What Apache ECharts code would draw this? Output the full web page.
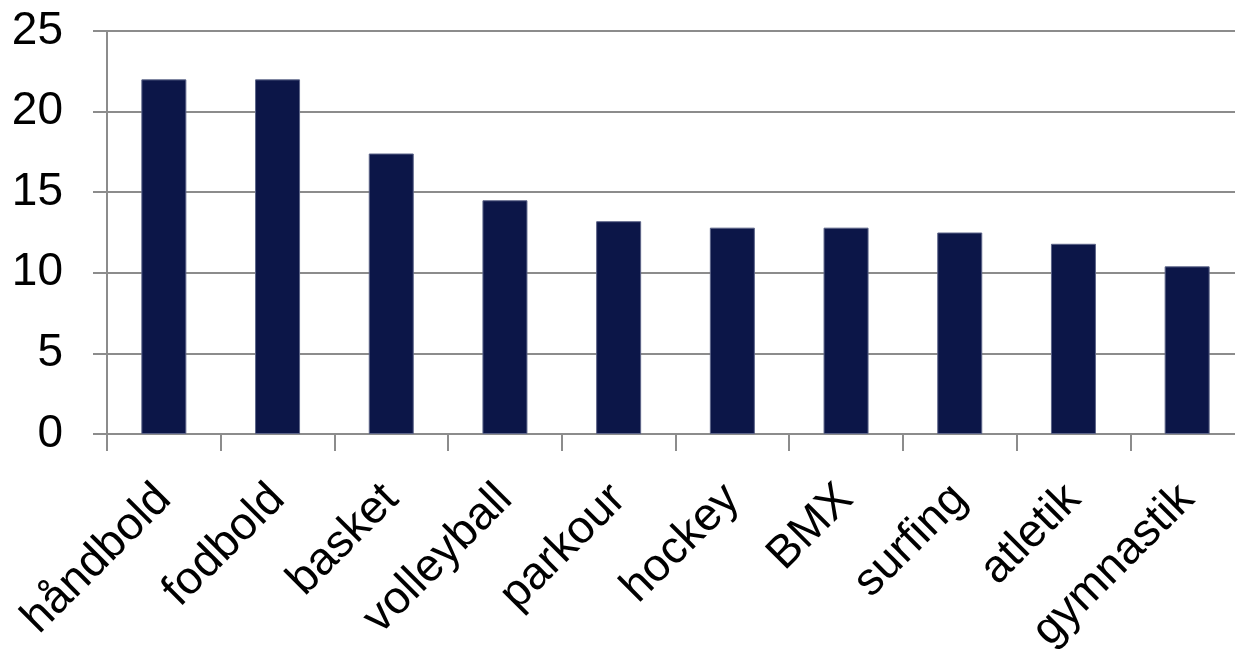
<!DOCTYPE html>
<html>
<head>
<meta charset="utf-8">
<script src="https://cdn.jsdelivr.net/npm/echarts@6/dist/echarts.min.js"></script>
<style>
  html, body { margin: 0; padding: 0; background: #ffffff; }
  #chart { width: 1235px; height: 649px; }
</style>
</head>
<body>
<div id="chart"></div>
<script>
// Sports and their scores
const categories = ['håndbold', 'fodbold', 'basket', 'volleyball', 'parkour', 'hockey', 'BMX', 'surfing', 'atletik', 'gymnastik'];
const values = [22.0, 22.0, 17.4, 14.5, 13.2, 12.8, 12.8, 12.5, 11.8, 10.4];
const yTicks = { min: 0, max: 25, interval: 5 };

const gridGray = '#8c8c8c';
const font = 'Liberation Sans, Arial, sans-serif';

const chart = echarts.init(document.getElementById('chart'), null, { renderer: 'canvas' });
chart.setOption({
  animation: false,
  backgroundColor: '#ffffff',
  // plot area runs slightly past the right edge of the canvas
  grid: {
    left: 107, right: -9, top: 31, bottom: 215,
    containLabel: false,
    outerBoundsMode: 'none'
  },
  xAxis: {
    type: 'category',
    data: categories,
    boundaryGap: true,
    axisLine: { show: true, lineStyle: { color: gridGray, width: 2 } },
    axisTick: { show: true, length: 17, alignWithLabel: false, lineStyle: { color: gridGray, width: 2 } },
    axisLabel: {
      rotate: 45,
      interval: 0,
      margin: 58,
      color: '#000000',
      fontSize: 46,
      fontFamily: font
    }
  },
  yAxis: {
    type: 'value',
    min: yTicks.min,
    max: yTicks.max,
    interval: yTicks.interval,
    axisLine: { show: true, lineStyle: { color: gridGray, width: 2 } },
    axisTick: { show: true, length: 14, lineStyle: { color: gridGray, width: 2 } },
    splitLine: { show: true, lineStyle: { color: gridGray, width: 2 } },
    axisLabel: {
      margin: 44,
      color: '#000000',
      fontSize: 46,
      fontFamily: font
    }
  },
  series: [{
    type: 'bar',
    data: values,
    barWidth: 45,
    itemStyle: { color: '#0c1648', borderColor: '#5c6488', borderWidth: 1 }
  }]
});
</script>
</body>
</html>
